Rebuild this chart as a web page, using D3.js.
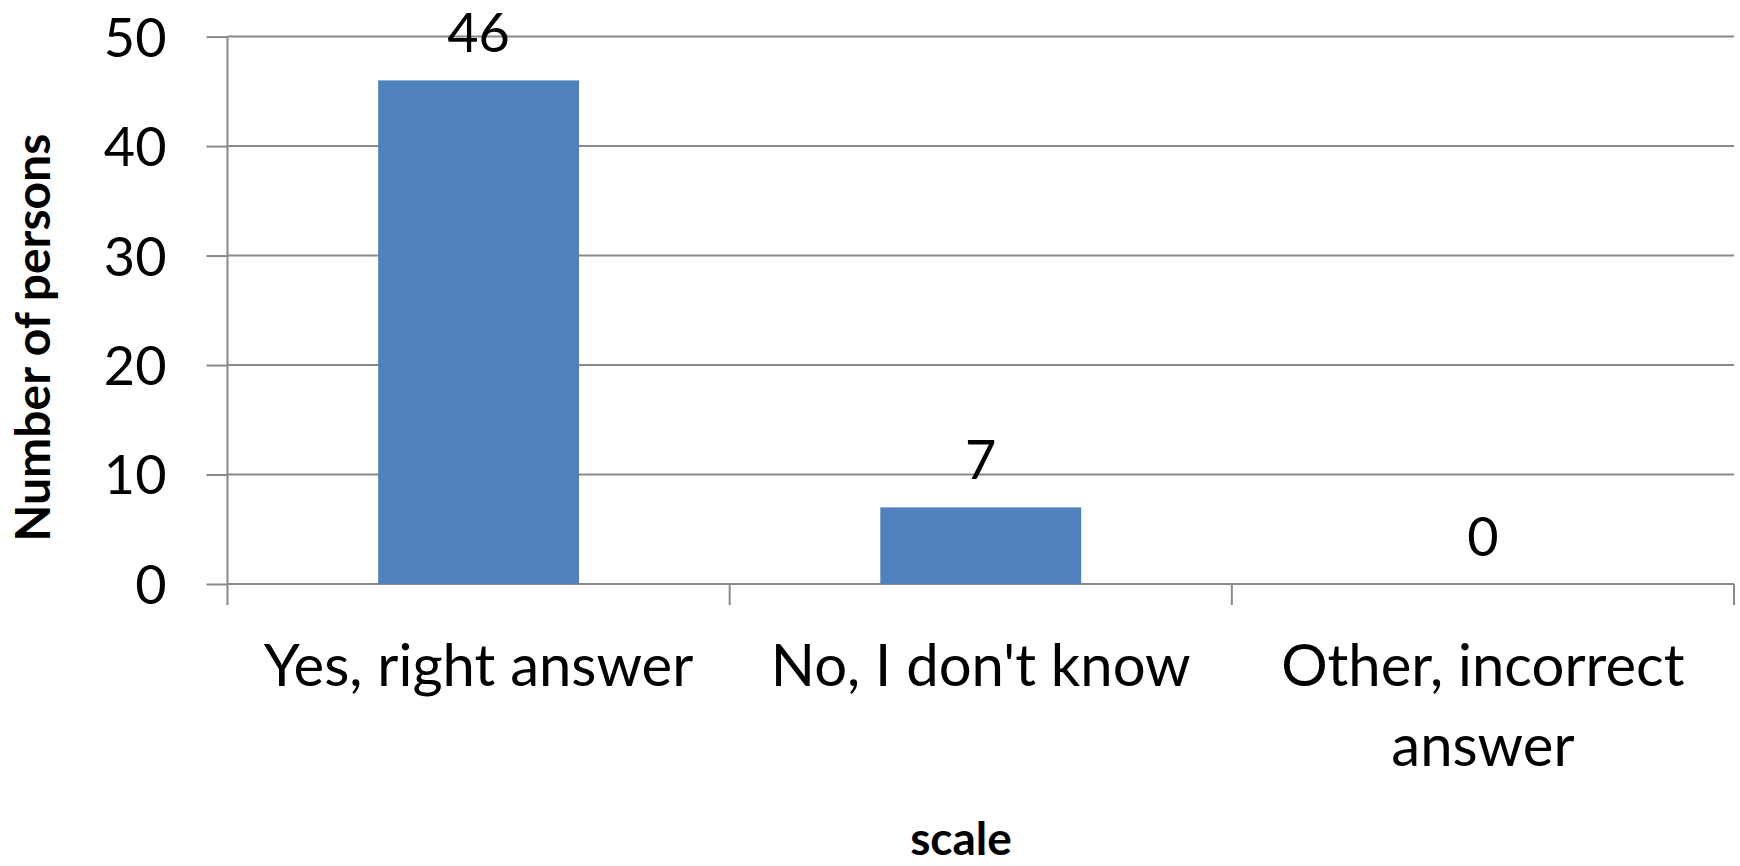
<!DOCTYPE html>
<html>
<head>
<meta charset="utf-8">
<script src="https://cdn.jsdelivr.net/npm/d3@7"></script>
<style>
  body { margin: 0; background: #fff; }
  text { font-family: Lato, "Open Sans", sans-serif; fill: #000; }
</style>
</head>
<body>
<div id="chart"></div>
<script>
// chart data
const categories = ["Yes, right answer", "No, I don't know", "Other, incorrect answer"];
const values = [46, 7, 0];
const yTicks = [0, 10, 20, 30, 40, 50];

// set dimensions and margins
const fullWidth = 1740, fullHeight = 866;
const margin = {top: 36.6, right: 6, bottom: 282, left: 227.5};
const width = fullWidth - margin.left - margin.right;
const height = fullHeight - margin.top - margin.bottom;

const svg = d3.select("#chart")
    .append("svg")
    .attr("width", fullWidth)
    .attr("height", fullHeight)
    .append("g")
    .attr("transform", "translate(" + margin.left + "," + margin.top + ")");

// scales
const x = d3.scaleBand()
    .domain(categories)
    .range([0, width])
    .padding(0);

const y = d3.scaleLinear()
    .domain([0, 50])
    .range([height, 0]);

const gridColor = "#898989";

// gridlines and y ticks
const yAxis = svg.append("g")
    .call(d3.axisLeft(y).tickValues(yTicks).tickSize(21).tickPadding(40).tickFormat(d3.format("d")));
yAxis.select(".domain").remove();
yAxis.selectAll("line").attr("stroke", gridColor).attr("stroke-width", 2);
yAxis.selectAll("text").style("font-size", "54px").attr("dy", "0.36em");

svg.append("g")
    .selectAll("line")
    .data(yTicks)
    .join("line")
    .attr("x1", 0)
    .attr("x2", width)
    .attr("y1", d => y(d))
    .attr("y2", d => y(d))
    .attr("stroke", gridColor)
    .attr("stroke-width", 2);

// category boundary ticks
const bounds = categories.map(d => x(d)).concat([width]);
svg.append("g")
    .selectAll("line")
    .data(bounds)
    .join("line")
    .attr("x1", d => d)
    .attr("x2", d => d)
    .attr("y1", (d, i) => i === 0 ? 0 : height)
    .attr("y2", height + 21)
    .attr("stroke", gridColor)
    .attr("stroke-width", 2);

// bars
const barW = x.bandwidth() * 0.4;
svg.append("g")
    .selectAll("rect")
    .data(values)
    .join("rect")
    .attr("x", (d, i) => x(categories[i]) + (x.bandwidth() - barW) / 2)
    .attr("y", d => y(d))
    .attr("width", barW)
    .attr("height", d => height - y(d))
    .attr("fill", "#4F81BD");

// value labels
svg.append("g")
    .selectAll("text")
    .data(values)
    .join("text")
    .attr("x", (d, i) => x(categories[i]) + x.bandwidth() / 2)
    .attr("y", d => y(d) - 28)
    .attr("text-anchor", "middle")
    .style("font-size", "54px")
    .text(d => d);

// category labels, wrapped to the band
svg.append("g")
    .selectAll("text")
    .data(categories)
    .join("text")
    .attr("x", d => x(d) + x.bandwidth() / 2)
    .attr("y", height + 102)
    .attr("text-anchor", "middle")
    .style("font-size", "58px")
    .each(function(d) {
        const t = d3.select(this);
        const words = d.split(" ");
        let line = [];
        let tspan = t.append("tspan").attr("x", t.attr("x"));
        words.forEach(w => {
            line.push(w);
            tspan.text(line.join(" "));
            if (tspan.node().getComputedTextLength() > x.bandwidth() - 20 && line.length > 1) {
                line.pop();
                tspan.text(line.join(" "));
                line = [w];
                tspan = t.append("tspan").attr("x", t.attr("x")).attr("dy", 80).text(w);
            }
        });
    });

// y axis title
svg.append("text")
    .attr("transform", "rotate(-90)")
    .attr("x", -301)
    .attr("y", 50 - margin.left)
    .attr("text-anchor", "middle")
    .style("font-size", "48px")
    .style("font-weight", "bold")
    .text("Number of persons");

// x axis title
svg.append("text")
    .attr("x", 961 - margin.left)
    .attr("y", 855 - margin.top)
    .attr("text-anchor", "middle")
    .style("font-size", "46px")
    .style("font-weight", "bold")
    .text("scale");
</script>
</body>
</html>
